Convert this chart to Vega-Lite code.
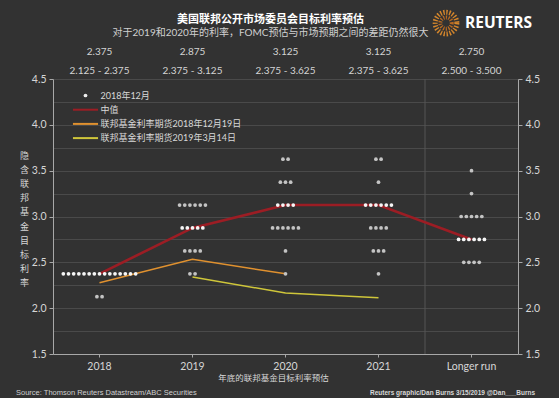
{
  "$schema": "https://vega.github.io/schema/vega-lite/v6.json",
  "width": 465,
  "height": 275,
  "autosize": {"type": "none"},
  "padding": {"left": 53, "top": 79, "right": 41, "bottom": 44},
  "background": "#323232",
  "config": {
    "view": {"stroke": null},
    "font": "Lato, 'Noto Sans CJK SC', sans-serif",
    "axis": {
      "labelFont": "Lato, 'Noto Sans CJK SC', sans-serif",
      "titleFont": "'Noto Sans CJK SC', sans-serif",
      "labelColor": "#d6d6d6",
      "titleColor": "#d6d6d6",
      "domainColor": "#a8a8a8",
      "tickColor": "#a8a8a8",
      "titleFontWeight": "normal",
      "labelFontSize": 10.5
    },
    "axisX": {
      "labelAngle": 0,
      "tickSize": 3,
      "labelPadding": 4,
      "titleFontSize": 8.5,
      "titlePadding": 2,
      "grid": false
    }
  },
  "title": {
    "text": "美国联邦公开市场委员会目标利率预估",
    "subtitle": "对于2019和2020年的利率，FOMC预估与市场预期之间的差距仍然很大",
    "anchor": "middle",
    "dx": -15,
    "offset": -36,
    "font": "'Noto Sans CJK SC', sans-serif",
    "fontSize": 11,
    "fontWeight": "bold",
    "color": "#ffffff",
    "subtitleFont": "Lato, 'Noto Sans CJK SC', sans-serif",
    "subtitleFontSize": 10,
    "subtitleColor": "#d0d0d0",
    "subtitlePadding": 3
  },
  "datasets": {
    "dots": [
      {"yr": "2018", "rate": 2.375, "n": 1}, {"yr": "2018", "rate": 2.375, "n": 1}, {"yr": "2018", "rate": 2.375, "n": 1},
      {"yr": "2018", "rate": 2.375, "n": 1}, {"yr": "2018", "rate": 2.375, "n": 1}, {"yr": "2018", "rate": 2.375, "n": 1},
      {"yr": "2018", "rate": 2.375, "n": 1}, {"yr": "2018", "rate": 2.375, "n": 1}, {"yr": "2018", "rate": 2.375, "n": 1},
      {"yr": "2018", "rate": 2.375, "n": 1}, {"yr": "2018", "rate": 2.375, "n": 1}, {"yr": "2018", "rate": 2.375, "n": 1},
      {"yr": "2018", "rate": 2.375, "n": 1}, {"yr": "2018", "rate": 2.375, "n": 1}, {"yr": "2018", "rate": 2.375, "n": 1},
      {"yr": "2018", "rate": 2.125, "n": 1}, {"yr": "2018", "rate": 2.125, "n": 1},
      {"yr": "2019", "rate": 3.125, "n": 1}, {"yr": "2019", "rate": 3.125, "n": 1}, {"yr": "2019", "rate": 3.125, "n": 1},
      {"yr": "2019", "rate": 3.125, "n": 1}, {"yr": "2019", "rate": 3.125, "n": 1}, {"yr": "2019", "rate": 3.125, "n": 1},
      {"yr": "2019", "rate": 2.875, "n": 1}, {"yr": "2019", "rate": 2.875, "n": 1}, {"yr": "2019", "rate": 2.875, "n": 1},
      {"yr": "2019", "rate": 2.875, "n": 1}, {"yr": "2019", "rate": 2.875, "n": 1},
      {"yr": "2019", "rate": 2.625, "n": 1}, {"yr": "2019", "rate": 2.625, "n": 1}, {"yr": "2019", "rate": 2.625, "n": 1},
      {"yr": "2019", "rate": 2.625, "n": 1},
      {"yr": "2019", "rate": 2.375, "n": 1}, {"yr": "2019", "rate": 2.375, "n": 1},
      {"yr": "2020", "rate": 3.625, "n": 1}, {"yr": "2020", "rate": 3.625, "n": 1},
      {"yr": "2020", "rate": 3.375, "n": 1}, {"yr": "2020", "rate": 3.375, "n": 1}, {"yr": "2020", "rate": 3.375, "n": 1},
      {"yr": "2020", "rate": 3.125, "n": 1}, {"yr": "2020", "rate": 3.125, "n": 1}, {"yr": "2020", "rate": 3.125, "n": 1},
      {"yr": "2020", "rate": 3.125, "n": 1},
      {"yr": "2020", "rate": 2.875, "n": 1}, {"yr": "2020", "rate": 2.875, "n": 1}, {"yr": "2020", "rate": 2.875, "n": 1},
      {"yr": "2020", "rate": 2.875, "n": 1}, {"yr": "2020", "rate": 2.875, "n": 1}, {"yr": "2020", "rate": 2.875, "n": 1},
      {"yr": "2020", "rate": 2.625, "n": 1},
      {"yr": "2020", "rate": 2.375, "n": 1},
      {"yr": "2021", "rate": 3.625, "n": 1}, {"yr": "2021", "rate": 3.625, "n": 1},
      {"yr": "2021", "rate": 3.375, "n": 1},
      {"yr": "2021", "rate": 3.125, "n": 1}, {"yr": "2021", "rate": 3.125, "n": 1}, {"yr": "2021", "rate": 3.125, "n": 1},
      {"yr": "2021", "rate": 3.125, "n": 1}, {"yr": "2021", "rate": 3.125, "n": 1}, {"yr": "2021", "rate": 3.125, "n": 1},
      {"yr": "2021", "rate": 2.875, "n": 1}, {"yr": "2021", "rate": 2.875, "n": 1}, {"yr": "2021", "rate": 2.875, "n": 1},
      {"yr": "2021", "rate": 2.875, "n": 1},
      {"yr": "2021", "rate": 2.625, "n": 1}, {"yr": "2021", "rate": 2.625, "n": 1}, {"yr": "2021", "rate": 2.625, "n": 1},
      {"yr": "2021", "rate": 2.375, "n": 1},
      {"yr": "Longer run", "rate": 3.5, "n": 1},
      {"yr": "Longer run", "rate": 3.25, "n": 1},
      {"yr": "Longer run", "rate": 3.0, "n": 1}, {"yr": "Longer run", "rate": 3.0, "n": 1}, {"yr": "Longer run", "rate": 3.0, "n": 1},
      {"yr": "Longer run", "rate": 3.0, "n": 1}, {"yr": "Longer run", "rate": 3.0, "n": 1},
      {"yr": "Longer run", "rate": 2.75, "n": 1}, {"yr": "Longer run", "rate": 2.75, "n": 1}, {"yr": "Longer run", "rate": 2.75, "n": 1},
      {"yr": "Longer run", "rate": 2.75, "n": 1}, {"yr": "Longer run", "rate": 2.75, "n": 1}, {"yr": "Longer run", "rate": 2.75, "n": 1},
      {"yr": "Longer run", "rate": 2.5, "n": 1}, {"yr": "Longer run", "rate": 2.5, "n": 1}, {"yr": "Longer run", "rate": 2.5, "n": 1},
      {"yr": "Longer run", "rate": 2.5, "n": 1}
    ],
    "med": [
      {"yr": "2018", "med": 2.375, "range": "2.125 - 2.375"},
      {"yr": "2019", "med": 2.875, "range": "2.375 - 3.125"},
      {"yr": "2020", "med": 3.125, "range": "2.375 - 3.625"},
      {"yr": "2021", "med": 3.125, "range": "2.375 - 3.625"},
      {"yr": "Longer run", "med": 2.75, "range": "2.500 - 3.500"}
    ],
    "fut": [
      {"series": "联邦基金利率期货2018年12月19日", "yr": "2018", "rate": 2.278},
      {"series": "联邦基金利率期货2018年12月19日", "yr": "2019", "rate": 2.533},
      {"series": "联邦基金利率期货2018年12月19日", "yr": "2020", "rate": 2.375},
      {"series": "联邦基金利率期货2019年3月14日", "yr": "2019", "rate": 2.34},
      {"series": "联邦基金利率期货2019年3月14日", "yr": "2020", "rate": 2.165},
      {"series": "联邦基金利率期货2019年3月14日", "yr": "2021", "rate": 2.114}
    ]
  },
  "resolve": {"axis": {"y": "independent"}},
  "layer": [
    {
      "data": {"values": [{}]},
      "mark": {"type": "rule", "color": "#555555", "strokeWidth": 1},
      "encoding": {
        "x": {"datum": "Longer run", "type": "nominal", "bandPosition": 0, "title": "年底的联邦基金目标利率预估"}
      }
    },
    {
      "data": {"name": "fut"},
      "mark": {"type": "line", "strokeWidth": 1.5},
      "encoding": {
        "x": {"field": "yr", "type": "nominal", "title": "年底的联邦基金目标利率预估"},
        "y": {"field": "rate", "type": "quantitative", "scale": {"domain": [1.5, 4.5], "nice": false, "zero": false}, "axis": null},
        "color": {
          "field": "series",
          "type": "nominal",
          "scale": {
            "domain": ["2018年12月", "中值", "联邦基金利率期货2018年12月19日", "联邦基金利率期货2019年3月14日"],
            "range": ["#eeeeee", "#9c1d24", "#e0912f", "#cfc63a"]
          },
          "legend": {
            "orient": "none",
            "legendX": 28,
            "legendY": 12,
            "title": null,
            "symbolSize": 70,
            "symbolStrokeWidth": 2,
            "labelOffset": 10.5,
            "labelFontSize": 9,
            "labelColor": "#d8d8d8",
            "labelFont": "Lato, 'Noto Sans CJK SC', sans-serif",
            "labelLimit": 300,
            "rowPadding": 4.2,
            "encode": {
              "symbols": {
                "update": {
                  "shape": {"signal": "datum.value === '2018年12月' ? 'circle' : 'M-3,0L3,0'"},
                  "size": {"signal": "datum.value === '2018年12月' ? 14 : 70"},
                  "fill": {"signal": "datum.value === '2018年12月' ? '#eeeeee' : 'transparent'"},
                  "strokeWidth": {"signal": "datum.value === '2018年12月' ? 0 : 2"}
                }
              }
            }
          }
        }
      }
    },
    {
      "data": {"name": "med"},
      "mark": {"type": "line", "strokeWidth": 2.6},
      "encoding": {
        "x": {"field": "yr", "type": "nominal", "title": "年底的联邦基金目标利率预估"},
        "y": {
          "field": "med",
          "type": "quantitative",
          "scale": {"domain": [1.5, 4.5], "nice": false, "zero": false},
          "axis": {
            "orient": "right",
            "values": [1.5, 2, 2.5, 3, 3.5, 4, 4.5],
            "format": ".1f",
            "grid": false,
            "title": null,
            "tickSize": 4,
            "labelPadding": 3
          }
        },
        "color": {"datum": "中值", "type": "nominal", "legend": null}
      }
    },
    {
      "data": {"name": "dots"},
      "transform": [
        {"stack": "n", "groupby": ["yr", "rate"], "offset": "center", "as": ["k0", "k1"]},
        {"lookup": "yr", "from": {"data": {"name": "med"}, "key": "yr", "fields": ["med"]}}
      ],
      "mark": {"type": "circle", "size": 14, "opacity": 1},
      "encoding": {
        "x": {
          "field": "yr",
          "type": "nominal",
          "title": "年底的联邦基金目标利率预估",
          "scale": {"type": "band", "domain": ["2018", "2019", "2020", "2021", "Longer run"], "paddingInner": 0, "paddingOuter": 0},
          "axis": {"titleX": 220}
        },
        "xOffset": {"field": "k0", "type": "quantitative", "scale": {"domain": [-2, 16]}},
        "y": {
          "field": "rate",
          "type": "quantitative",
          "scale": {"domain": [1.5, 4.5], "nice": false, "zero": false},
          "axis": {
            "orient": "left",
            "values": [1.5, 1.75, 2, 2.25, 2.5, 2.75, 3, 3.25, 3.5, 3.75, 4, 4.25, 4.5],
            "labelExpr": "datum.value % 0.5 === 0 ? format(datum.value, '.1f') : ''",
            "tickOpacity": {"condition": {"test": "datum.value % 0.5 !== 0", "value": 0}, "value": 1},
            "tickSize": 4,
            "labelPadding": 3,
            "grid": true,
            "gridColor": "#4a4a4a",
            "gridWidth": 1,
            "title": ["隐", "含", "联", "邦", "基", "金", "目", "标", "利", "率"],
            "titleAngle": 0,
            "titleFontSize": 9,
            "titleLineHeight": 14.2,
            "titleX": -29,
            "titleY": 76,
            "titleAlign": "center",
            "titleBaseline": "middle"
          }
        },
        "color": {"condition": {"test": "datum.rate === datum.med", "value": "#f6f6f6"}, "value": "#c4c4c4"}
      }
    },
    {
      "data": {"name": "med"},
      "mark": {"type": "text", "fontSize": 10, "color": "#d4d4d4", "baseline": "middle", "font": "Lato, sans-serif"},
      "encoding": {
        "x": {"field": "yr", "type": "nominal", "title": "年底的联邦基金目标利率预估"},
        "y": {"datum": 4.79, "type": "quantitative", "scale": {"domain": [1.5, 4.5]}, "axis": null},
        "text": {"field": "med", "type": "quantitative", "format": ".3f"}
      }
    },
    {
      "data": {"name": "med"},
      "mark": {"type": "text", "fontSize": 10, "color": "#d4d4d4", "baseline": "middle", "font": "Lato, sans-serif"},
      "encoding": {
        "x": {"field": "yr", "type": "nominal", "title": "年底的联邦基金目标利率预估"},
        "y": {"datum": 4.59, "type": "quantitative", "scale": {"domain": [1.5, 4.5]}, "axis": null},
        "text": {"field": "range", "type": "nominal"}
      }
    },
    {
      "data": {"values": [{"t": "Source: Thomson Reuters Datastream/ABC Securities"}]},
      "mark": {"type": "text", "fontSize": 7.5, "color": "#d0d0d0", "align": "left", "baseline": "middle", "dx": -37, "font": "'Liberation Sans', sans-serif"},
      "encoding": {
        "x": {"datum": "2018", "type": "nominal", "bandPosition": 0, "title": "年底的联邦基金目标利率预估"},
        "y": {"datum": 1.07, "type": "quantitative", "scale": {"domain": [1.5, 4.5]}, "axis": null},
        "text": {"field": "t", "type": "nominal"}
      }
    },
    {
      "data": {"values": [{"t": "Reuters graphic/Dan Burns 3/15/2019 @Dan___Burns"}]},
      "mark": {"type": "text", "fontSize": 6.5, "fontWeight": "bold", "color": "#d8d8d8", "align": "right", "baseline": "middle", "dx": 17, "font": "'Liberation Sans', sans-serif"},
      "encoding": {
        "x": {"datum": "Longer run", "type": "nominal", "bandPosition": 1, "title": "年底的联邦基金目标利率预估"},
        "y": {"datum": 1.07, "type": "quantitative", "scale": {"domain": [1.5, 4.5]}, "axis": null},
        "text": {"field": "t", "type": "nominal"}
      }
    },
    {
      "data": {"values": [{"t": "REUTERS"}]},
      "mark": {"type": "text", "fontSize": 15.5, "fontWeight": "bold", "color": "#ffffff", "align": "left", "baseline": "middle", "font": "'Open Sans', sans-serif"},
      "encoding": {
        "x": {"datum": "Longer run", "type": "nominal", "bandPosition": 0.43, "title": "年底的联邦基金目标利率预估"},
        "y": {"datum": 5.11, "type": "quantitative", "scale": {"domain": [1.5, 4.5]}, "axis": null},
        "text": {"field": "t", "type": "nominal"}
      }
    },
    {
      "data": {"values": [{}]},
      "mark": {"type": "point", "shape": "circle", "filled": false, "size": 470, "stroke": "#d4862c", "strokeWidth": 5, "strokeDash": [1.4, 1.6], "opacity": 1},
      "encoding": {
        "x": {"datum": "Longer run", "type": "nominal", "bandPosition": 0.226, "title": "年底的联邦基金目标利率预估"},
        "y": {"datum": 5.11, "type": "quantitative", "scale": {"domain": [1.5, 4.5]}, "axis": null}
      }
    },
    {
      "data": {"values": [{}]},
      "mark": {"type": "point", "shape": "circle", "filled": false, "size": 130, "stroke": "#b86a22", "strokeWidth": 4, "strokeDash": [1.2, 1.4], "opacity": 1},
      "encoding": {
        "x": {"datum": "Longer run", "type": "nominal", "bandPosition": 0.226, "title": "年底的联邦基金目标利率预估"},
        "y": {"datum": 5.11, "type": "quantitative", "scale": {"domain": [1.5, 4.5]}, "axis": null}
      }
    }
  ]
}
